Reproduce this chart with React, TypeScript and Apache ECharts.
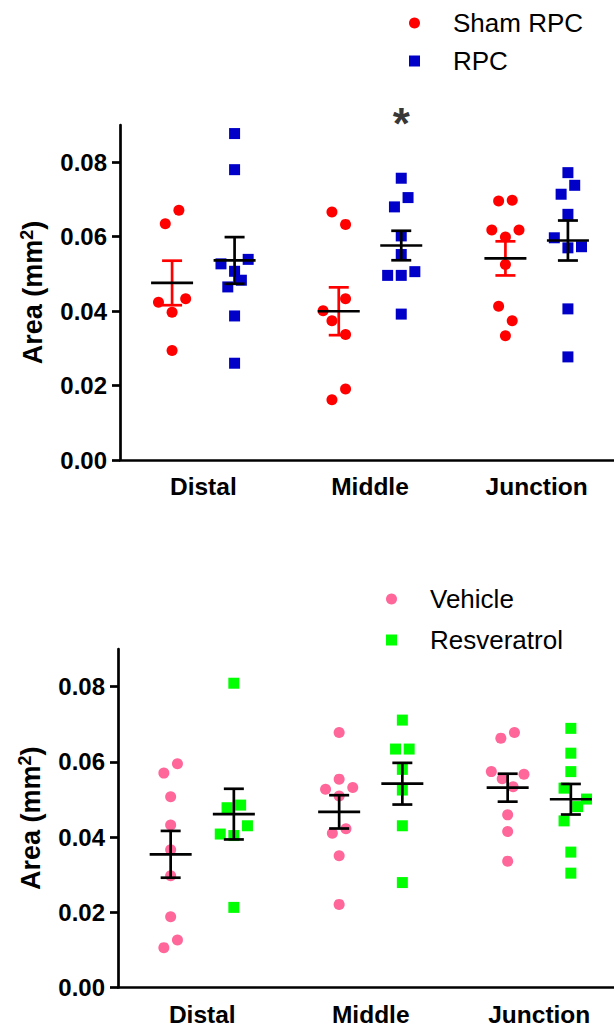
import React, { useEffect, useRef } from "react";
import * as echarts from "echarts";

// ---------- data ----------
const categories = ["Distal", "Middle", "Junction"];
const yTickValues = [0, 0.02, 0.04, 0.06, 0.08];

// Top panel: Sham RPC vs RPC
const shamRPC = [
  [0.0671, 0.0635, 0.0433, 0.0424, 0.0397, 0.0294],
  [0.0666, 0.0633, 0.0433, 0.0401, 0.0374, 0.0337, 0.0191, 0.0162],
  [0.0698, 0.0696, 0.0618, 0.0618, 0.0599, 0.0525, 0.0413, 0.0374, 0.0334],
];
// horizontal swarm slot of each dot (dot-width units)
const shamRPCSpread = [
  [1, -1, 2, -2, 0, 0],
  [-1, 1, 1, -2.3, -1, 1, 1, -1],
  [1, -1, -2, 2, 0, 0, -1, 1, 0],
];
const rpc = [
  [0.0877, 0.078, 0.0539, 0.0527, 0.0507, 0.0483, 0.0465, 0.0387, 0.026],
  [0.0757, 0.0705, 0.068, 0.0602, 0.0552, 0.0506, 0.0496, 0.0496, 0.0392],
  [0.0772, 0.0738, 0.0714, 0.066, 0.0597, 0.0573, 0.057, 0.0406, 0.0277],
];
const rpcSpread = [
  [0, 0, 2, -2, 0, 1, -1, 0, 0],
  [0, 1, -1, 0, 0, 2, -2, 0, 0],
  [0, 1, -1, 0, -2, 2, 0, 0, 0],
];
// significance marker: category index and value anchor
const sigCategory = 1;
const sigValue = 0.0905;

// Bottom panel: Vehicle vs Resveratrol
const vehicle = [
  [0.0595, 0.057, 0.0507, 0.0432, 0.0366, 0.0297, 0.0188, 0.0126, 0.0106],
  [0.0678, 0.0554, 0.0532, 0.0527, 0.0509, 0.0422, 0.041, 0.035, 0.0221],
  [0.0678, 0.0663, 0.0574, 0.0567, 0.0555, 0.0534, 0.0459, 0.0415, 0.0336],
];
const vehicleSpread = [
  [1, -1, 0, 0, 0, 0, 0, 1, -1],
  [0, 0, 2, -2, 0, 1, -1, 0, 0],
  [1, -1, -2.4, 2.4, -0.8, 0.8, 0, 0, 0],
];
const resveratrol = [
  [0.0809, 0.0485, 0.0478, 0.043, 0.0408, 0.0404, 0.0213],
  [0.0711, 0.0634, 0.0634, 0.058, 0.0525, 0.043, 0.0279],
  [0.0689, 0.0623, 0.0574, 0.053, 0.0501, 0.0481, 0.0443, 0.036, 0.0304],
];
const resveratrolSpread = [
  [0, 1, -1, 2, -2, 0, 0],
  [0, 1, -1, 0, 0, 0, 0],
  [0, 0, 0, -1, 2.3, 1, -1, 0, 0],
];

// ---------- layout / style ----------
const FONT = '"Liberation Sans", Arial, Helvetica, sans-serif';
const GROUP_OFFSET = 0.1875; // category units
const STEP_PX = 6.8;
const TOP_GRID = { left: 120, top: 125, width: 500, height: 335 };
const BOT_GRID = { left: 118, top: 649, width: 505.5, height: 338.5 };
const LW = 2.7;

const RED = "#FF0000";
const BLUE = "#0000C8";
const PINK = "#FF6699";
const GREEN = "#00FF00";

function points(groups: number[][], spread: number[][], side: number, gridWidth: number) {
  const band = gridWidth / categories.length;
  const step = STEP_PX / band;
  const out: number[][] = [];
  groups.forEach((vals, ci) => {
    vals.forEach((v, i) => {
      out.push([ci + side * GROUP_OFFSET + spread[ci][i] * step, v]);
    });
  });
  return out;
}

function stats(groups: number[][], side: number) {
  return groups.map((vals, ci) => {
    const n = vals.length;
    const mean = vals.reduce((a, b) => a + b, 0) / n;
    const sd = Math.sqrt(vals.reduce((a, b) => a + (b - mean) * (b - mean), 0) / (n - 1));
    const sem = sd / Math.sqrt(n);
    return [ci + side * GROUP_OFFSET, mean, mean - sem, mean + sem];
  });
}

function errorSeries(groups: number[][], side: number, barColor: string, xi: number, yi: number) {
  return {
    type: "custom",
    xAxisIndex: xi,
    yAxisIndex: yi,
    z: 5,
    silent: true,
    encode: { x: 0, y: [1, 2, 3] },
    data: stats(groups, side),
    renderItem: (_params: any, api: any) => {
      const x = api.value(0);
      const pm = api.coord([x, api.value(1)]);
      const pl = api.coord([x, api.value(2)]);
      const ph = api.coord([x, api.value(3)]);
      const cap = 10;
      const half = 21;
      const s = { stroke: barColor, lineWidth: LW, fill: null };
      return {
        type: "group",
        children: [
          { type: "line", shape: { x1: pm[0], y1: pl[1], x2: pm[0], y2: ph[1] }, style: s },
          { type: "line", shape: { x1: pm[0] - cap, y1: pl[1], x2: pm[0] + cap, y2: pl[1] }, style: s },
          { type: "line", shape: { x1: pm[0] - cap, y1: ph[1], x2: pm[0] + cap, y2: ph[1] }, style: s },
          {
            type: "line",
            shape: { x1: pm[0] - half, y1: pm[1], x2: pm[0] + half, y2: pm[1] },
            style: { stroke: "#000", lineWidth: LW, fill: null },
          },
        ],
      };
    },
  };
}

function catAxis(gridIndex: number) {
  return {
    type: "category",
    gridIndex,
    data: categories,
    boundaryGap: true,
    axisLine: { onZero: false, lineStyle: { color: "#000", width: LW } },
    axisTick: { alignWithLabel: true, length: 8, lineStyle: { color: "#000", width: LW } },
    axisLabel: { fontFamily: FONT, fontSize: 24.5, fontWeight: "bold", color: "#000", margin: 14 },
    splitLine: { show: false },
  };
}

function valXAxis(gridIndex: number) {
  return { type: "value", gridIndex, min: -0.5, max: 2.5, show: false, splitLine: { show: false } };
}

function yAxis(gridIndex: number) {
  return {
    type: "value",
    gridIndex,
    min: 0,
    max: 0.09,
    name: "Area (mm{sup|2})",
    nameLocation: "middle",
    nameRotate: 90,
    nameGap: 72,
    nameTextStyle: {
      fontFamily: FONT,
      fontSize: 27,
      fontWeight: "bold",
      color: "#000",
      rich: {
        sup: {
          fontFamily: FONT,
          fontSize: 18,
          fontWeight: "bold",
          color: "#000",
          padding: [0, 0, 12, 0],
        },
      },
    },
    axisLine: { show: true, onZero: false, lineStyle: { color: "#000", width: LW } },
    axisTick: { show: true, length: 8, customValues: yTickValues, lineStyle: { color: "#000", width: LW } },
    axisLabel: {
      customValues: yTickValues,
      formatter: (v: number) => v.toFixed(2),
      fontFamily: FONT,
      fontSize: 24,
      fontWeight: "bold",
      color: "#000",
      margin: 13,
    },
    splitLine: { show: false },
  };
}

function legend(names: string[], icons: string[], colors: string[], left: number, top: number, gap: number) {
  return {
    orient: "vertical",
    left,
    top,
    padding: 0,
    itemGap: gap,
    itemWidth: 11,
    itemHeight: 11,
    data: names.map((n, i) => ({ name: n, icon: icons[i], itemStyle: { color: colors[i] } })),
    textStyle: { fontFamily: FONT, fontSize: 26, color: "#000", lineHeight: 26, padding: [0, 0, 0, 28] },
  };
}

export default function App() {
  const ref = useRef<HTMLDivElement>(null);
  useEffect(() => {
    if (!ref.current) return;
    const chart = echarts.init(ref.current, undefined, { renderer: "svg" });
    const option: any = {
      animation: false,
      backgroundColor: "#fff",
      grid: [
        { ...TOP_GRID, containLabel: false, outerBoundsMode: "none" },
        { ...BOT_GRID, containLabel: false, outerBoundsMode: "none" },
      ],
      xAxis: [catAxis(0), valXAxis(0), catAxis(1), valXAxis(1)],
      yAxis: [yAxis(0), yAxis(1)],
      legend: [
        legend(["Sham RPC", "RPC"], ["circle", "rect"], [RED, BLUE], 409, 10, 12),
        legend(["Vehicle", "Resveratrol"], ["circle", "rect"], [PINK, GREEN], 386, 586, 15),
      ],
      series: [
        {
          name: "Sham RPC",
          type: "scatter",
          xAxisIndex: 1,
          yAxisIndex: 0,
          symbol: "circle",
          symbolSize: 11,
          itemStyle: { color: RED, opacity: 1 },
          data: points(shamRPC, shamRPCSpread, -1, TOP_GRID.width),
        },
        {
          name: "RPC",
          type: "scatter",
          xAxisIndex: 1,
          yAxisIndex: 0,
          symbol: "rect",
          symbolSize: 11,
          itemStyle: { color: BLUE, opacity: 1 },
          data: points(rpc, rpcSpread, 1, TOP_GRID.width),
        },
        errorSeries(shamRPC, -1, RED, 1, 0),
        errorSeries(rpc, 1, "#000", 1, 0),
        {
          type: "scatter",
          xAxisIndex: 1,
          yAxisIndex: 0,
          clip: false,
          silent: true,
          symbolSize: 0,
          data: [[sigCategory + GROUP_OFFSET, sigValue]],
          label: {
            show: true,
            position: "inside",
            formatter: "*",
            fontFamily: FONT,
            fontSize: 44,
            fontWeight: "bold",
            color: "#000",
            textBorderWidth: 0,
          },
        },
        {
          name: "Vehicle",
          type: "scatter",
          xAxisIndex: 3,
          yAxisIndex: 1,
          symbol: "circle",
          symbolSize: 11,
          itemStyle: { color: PINK, opacity: 1 },
          data: points(vehicle, vehicleSpread, -1, BOT_GRID.width),
        },
        {
          name: "Resveratrol",
          type: "scatter",
          xAxisIndex: 3,
          yAxisIndex: 1,
          symbol: "rect",
          symbolSize: 11,
          itemStyle: { color: GREEN, opacity: 1 },
          data: points(resveratrol, resveratrolSpread, 1, BOT_GRID.width),
        },
        errorSeries(vehicle, -1, "#000", 3, 1),
        errorSeries(resveratrol, 1, "#000", 3, 1),
      ],
    };
    chart.setOption(option);
    return () => chart.dispose();
  }, []);
  return (
    <div
      ref={ref}
      style={{ position: "absolute", left: 0, top: 0, width: 614, height: 1030, background: "#fff" }}
    />
  );
}
